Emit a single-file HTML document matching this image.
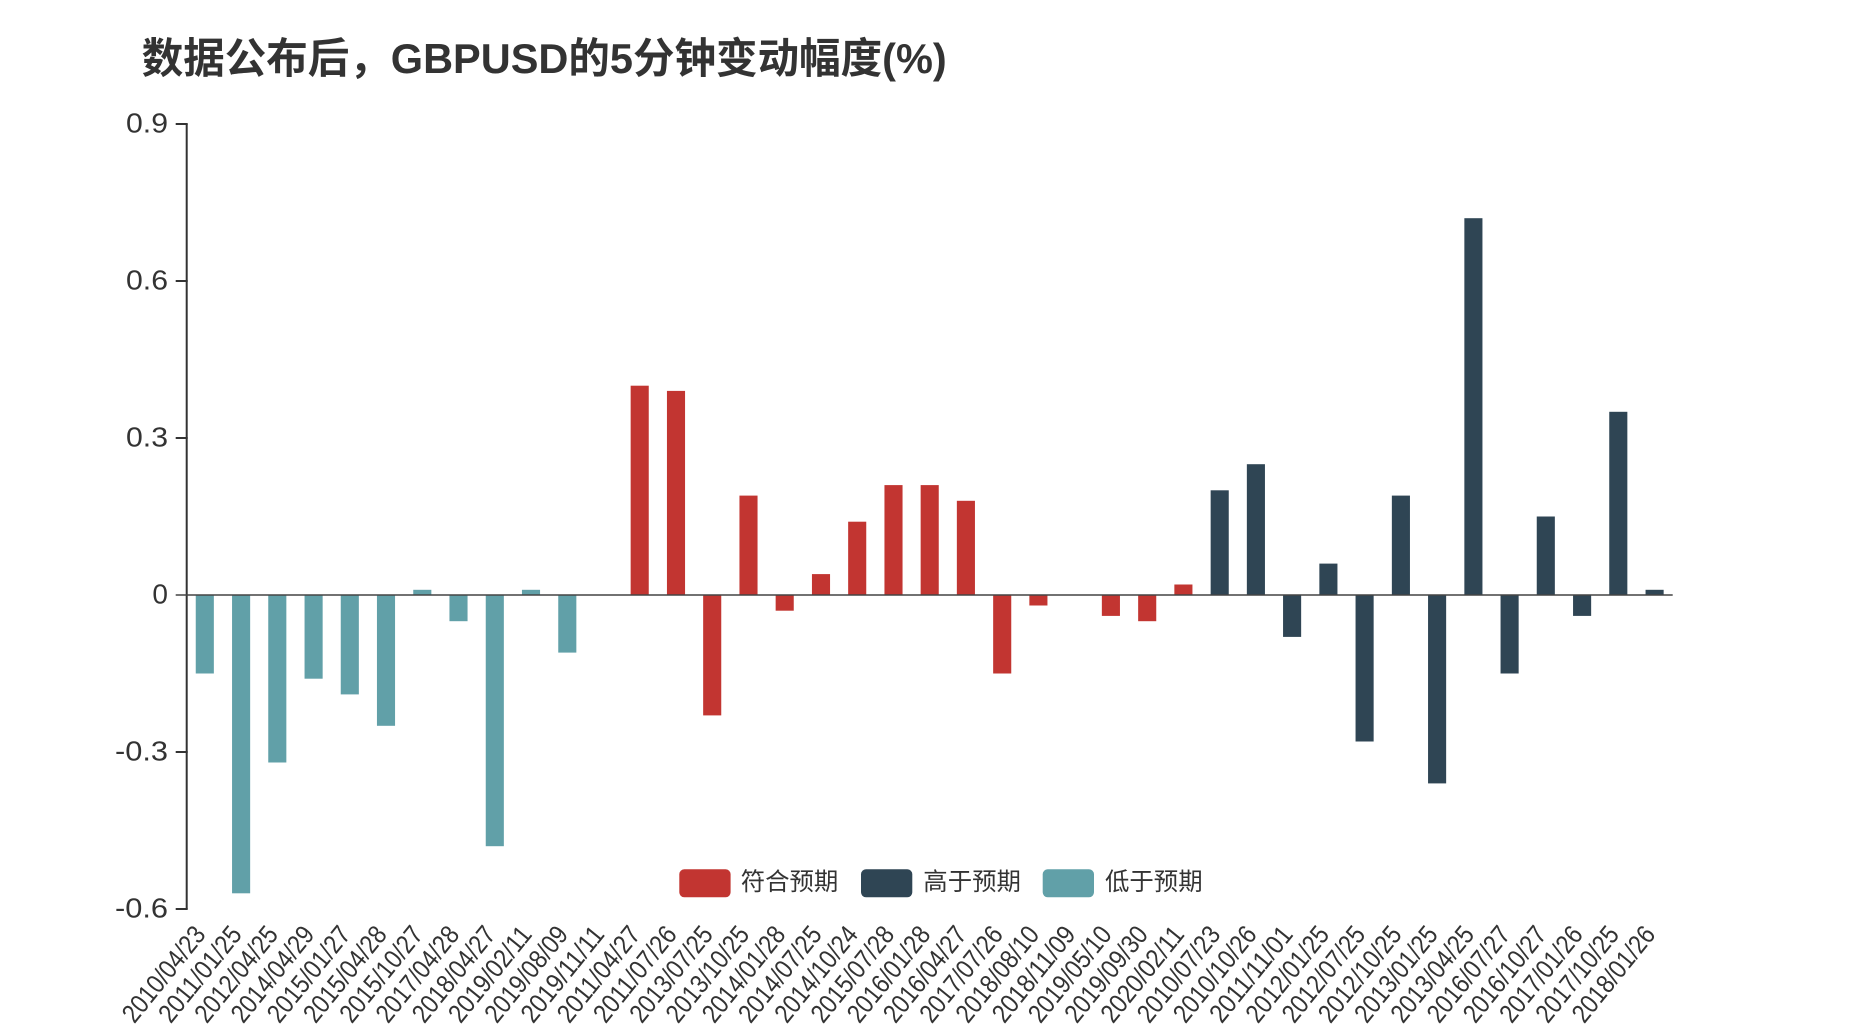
<!DOCTYPE html>
<html>
<head>
<meta charset="utf-8">
<style>
html,body{margin:0;padding:0;background:#fff;}
svg{display:block;}
text{font-family:"Liberation Sans","Noto Sans CJK SC",sans-serif;fill:#333;}
</style>
</head>
<body>
<svg width="1858" height="1032" viewBox="0 0 1858 1032" xmlns="http://www.w3.org/2000/svg">
<rect x="0" y="0" width="1858" height="1032" fill="#fff"/>
<!-- Title -->
<text x="141.7" y="73" font-size="42" font-weight="bold" textLength="805" lengthAdjust="spacingAndGlyphs">数据公布后，GBPUSD的5分钟变动幅度(%)</text>

<!-- Y axis labels -->
<g font-size="28" text-anchor="end">
<text x="168" y="132.5" textLength="42" lengthAdjust="spacingAndGlyphs">0.9</text>
<text x="168" y="289.5" textLength="42" lengthAdjust="spacingAndGlyphs">0.6</text>
<text x="168" y="446.5" textLength="42" lengthAdjust="spacingAndGlyphs">0.3</text>
<text x="168" y="603.5">0</text>
<text x="168" y="760.5" textLength="53" lengthAdjust="spacingAndGlyphs">-0.3</text>
<text x="168" y="917.5" textLength="53" lengthAdjust="spacingAndGlyphs">-0.6</text>
</g>

<!-- Bars: 低于预期 -->
<g fill="#61a0a8">
<rect x="195.75" y="595" width="18.1" height="78.5"/>
<rect x="232.05" y="595" width="18.1" height="298.3"/>
<rect x="268.25" y="595" width="18.1" height="167.5"/>
<rect x="304.55" y="595" width="18.1" height="83.7"/>
<rect x="340.75" y="595" width="18.1" height="99.4"/>
<rect x="376.95" y="595" width="18.1" height="130.8"/>
<rect x="413.25" y="589.8" width="18.1" height="5.2"/>
<rect x="449.45" y="595" width="18.1" height="26.2"/>
<rect x="485.75" y="595" width="18.1" height="251.2"/>
<rect x="521.95" y="589.8" width="18.1" height="5.2"/>
<rect x="558.25" y="595" width="18.1" height="57.6"/>
</g>
<!-- Bars: 符合预期 -->
<g fill="#c23531">
<rect x="630.65" y="385.7" width="18.1" height="209.3"/>
<rect x="666.95" y="390.9" width="18.1" height="204.1"/>
<rect x="703.15" y="595" width="18.1" height="120.4"/>
<rect x="739.45" y="495.6" width="18.1" height="99.4"/>
<rect x="775.65" y="595" width="18.1" height="15.7"/>
<rect x="811.95" y="574.1" width="18.1" height="20.9"/>
<rect x="848.15" y="521.7" width="18.1" height="73.3"/>
<rect x="884.45" y="485.1" width="18.1" height="109.9"/>
<rect x="920.65" y="485.1" width="18.1" height="109.9"/>
<rect x="956.85" y="500.8" width="18.1" height="94.2"/>
<rect x="993.15" y="595" width="18.1" height="78.5"/>
<rect x="1029.35" y="595" width="18.1" height="10.5"/>
<rect x="1101.85" y="595" width="18.1" height="20.9"/>
<rect x="1138.15" y="595" width="18.1" height="26.2"/>
<rect x="1174.35" y="584.5" width="18.1" height="10.5"/>
</g>
<!-- Bars: 高于预期 -->
<g fill="#2f4554">
<rect x="1210.65" y="490.3" width="18.1" height="104.7"/>
<rect x="1246.85" y="464.2" width="18.1" height="130.8"/>
<rect x="1283.05" y="595" width="18.1" height="41.9"/>
<rect x="1319.35" y="563.6" width="18.1" height="31.4"/>
<rect x="1355.55" y="595" width="18.1" height="146.5"/>
<rect x="1391.85" y="495.6" width="18.1" height="99.4"/>
<rect x="1428.05" y="595" width="18.1" height="188.4"/>
<rect x="1464.35" y="218.2" width="18.1" height="376.8"/>
<rect x="1500.55" y="595" width="18.1" height="78.5"/>
<rect x="1536.75" y="516.5" width="18.1" height="78.5"/>
<rect x="1573.05" y="595" width="18.1" height="20.9"/>
<rect x="1609.25" y="411.8" width="18.1" height="183.2"/>
<rect x="1645.55" y="589.8" width="18.1" height="5.2"/>
</g>

<!-- Axes -->
<g stroke="#333" fill="none">
<line x1="186.7" y1="124" x2="186.7" y2="909" stroke-width="2"/>
<line x1="175.7" y1="124" x2="187.7" y2="124" stroke-width="2"/>
<line x1="175.7" y1="281" x2="187.7" y2="281" stroke-width="2"/>
<line x1="175.7" y1="438" x2="187.7" y2="438" stroke-width="2"/>
<line x1="175.7" y1="752" x2="187.7" y2="752" stroke-width="2"/>
<line x1="175.7" y1="909" x2="187.7" y2="909" stroke-width="2"/>
<line x1="175.7" y1="595" x2="1672.7" y2="595" stroke-width="1.6" stroke="#444"/>
</g>

<!-- X labels -->
<g font-size="26.5" text-anchor="end">
<text transform="translate(206.8,935) rotate(-51)" textLength="115" lengthAdjust="spacingAndGlyphs">2010/04/23</text>
<text transform="translate(243.1,935) rotate(-51)" textLength="115" lengthAdjust="spacingAndGlyphs">2011/01/25</text>
<text transform="translate(279.3,935) rotate(-51)" textLength="115" lengthAdjust="spacingAndGlyphs">2012/04/25</text>
<text transform="translate(315.6,935) rotate(-51)" textLength="115" lengthAdjust="spacingAndGlyphs">2014/04/29</text>
<text transform="translate(351.8,935) rotate(-51)" textLength="115" lengthAdjust="spacingAndGlyphs">2015/01/27</text>
<text transform="translate(388.0,935) rotate(-51)" textLength="115" lengthAdjust="spacingAndGlyphs">2015/04/28</text>
<text transform="translate(424.3,935) rotate(-51)" textLength="115" lengthAdjust="spacingAndGlyphs">2015/10/27</text>
<text transform="translate(460.5,935) rotate(-51)" textLength="115" lengthAdjust="spacingAndGlyphs">2017/04/28</text>
<text transform="translate(496.8,935) rotate(-51)" textLength="115" lengthAdjust="spacingAndGlyphs">2018/04/27</text>
<text transform="translate(533.0,935) rotate(-51)" textLength="115" lengthAdjust="spacingAndGlyphs">2019/02/11</text>
<text transform="translate(569.3,935) rotate(-51)" textLength="115" lengthAdjust="spacingAndGlyphs">2019/08/09</text>
<text transform="translate(605.5,935) rotate(-51)" textLength="115" lengthAdjust="spacingAndGlyphs">2019/11/11</text>
<text transform="translate(641.7,935) rotate(-51)" textLength="115" lengthAdjust="spacingAndGlyphs">2011/04/27</text>
<text transform="translate(678.0,935) rotate(-51)" textLength="115" lengthAdjust="spacingAndGlyphs">2011/07/26</text>
<text transform="translate(714.2,935) rotate(-51)" textLength="115" lengthAdjust="spacingAndGlyphs">2013/07/25</text>
<text transform="translate(750.5,935) rotate(-51)" textLength="115" lengthAdjust="spacingAndGlyphs">2013/10/25</text>
<text transform="translate(786.7,935) rotate(-51)" textLength="115" lengthAdjust="spacingAndGlyphs">2014/01/28</text>
<text transform="translate(823.0,935) rotate(-51)" textLength="115" lengthAdjust="spacingAndGlyphs">2014/07/25</text>
<text transform="translate(859.2,935) rotate(-51)" textLength="115" lengthAdjust="spacingAndGlyphs">2014/10/24</text>
<text transform="translate(895.5,935) rotate(-51)" textLength="115" lengthAdjust="spacingAndGlyphs">2015/07/28</text>
<text transform="translate(931.7,935) rotate(-51)" textLength="115" lengthAdjust="spacingAndGlyphs">2016/01/28</text>
<text transform="translate(967.9,935) rotate(-51)" textLength="115" lengthAdjust="spacingAndGlyphs">2016/04/27</text>
<text transform="translate(1004.2,935) rotate(-51)" textLength="115" lengthAdjust="spacingAndGlyphs">2017/07/26</text>
<text transform="translate(1040.4,935) rotate(-51)" textLength="115" lengthAdjust="spacingAndGlyphs">2018/08/10</text>
<text transform="translate(1076.7,935) rotate(-51)" textLength="115" lengthAdjust="spacingAndGlyphs">2018/11/09</text>
<text transform="translate(1112.9,935) rotate(-51)" textLength="115" lengthAdjust="spacingAndGlyphs">2019/05/10</text>
<text transform="translate(1149.2,935) rotate(-51)" textLength="115" lengthAdjust="spacingAndGlyphs">2019/09/30</text>
<text transform="translate(1185.4,935) rotate(-51)" textLength="115" lengthAdjust="spacingAndGlyphs">2020/02/11</text>
<text transform="translate(1221.7,935) rotate(-51)" textLength="115" lengthAdjust="spacingAndGlyphs">2010/07/23</text>
<text transform="translate(1257.9,935) rotate(-51)" textLength="115" lengthAdjust="spacingAndGlyphs">2010/10/26</text>
<text transform="translate(1294.1,935) rotate(-51)" textLength="115" lengthAdjust="spacingAndGlyphs">2011/11/01</text>
<text transform="translate(1330.4,935) rotate(-51)" textLength="115" lengthAdjust="spacingAndGlyphs">2012/01/25</text>
<text transform="translate(1366.6,935) rotate(-51)" textLength="115" lengthAdjust="spacingAndGlyphs">2012/07/25</text>
<text transform="translate(1402.9,935) rotate(-51)" textLength="115" lengthAdjust="spacingAndGlyphs">2012/10/25</text>
<text transform="translate(1439.1,935) rotate(-51)" textLength="115" lengthAdjust="spacingAndGlyphs">2013/01/25</text>
<text transform="translate(1475.4,935) rotate(-51)" textLength="115" lengthAdjust="spacingAndGlyphs">2013/04/25</text>
<text transform="translate(1511.6,935) rotate(-51)" textLength="115" lengthAdjust="spacingAndGlyphs">2016/07/27</text>
<text transform="translate(1547.8,935) rotate(-51)" textLength="115" lengthAdjust="spacingAndGlyphs">2016/10/27</text>
<text transform="translate(1584.1,935) rotate(-51)" textLength="115" lengthAdjust="spacingAndGlyphs">2017/01/26</text>
<text transform="translate(1620.3,935) rotate(-51)" textLength="115" lengthAdjust="spacingAndGlyphs">2017/10/25</text>
<text transform="translate(1656.6,935) rotate(-51)" textLength="115" lengthAdjust="spacingAndGlyphs">2018/01/26</text>
</g>

<!-- Legend -->
<rect x="679.3" y="869.3" width="51.3" height="28" rx="5" fill="#c23531"/>
<text x="740.7" y="890" font-size="24.4" textLength="97.6" lengthAdjust="spacingAndGlyphs">符合预期</text>
<rect x="861" y="869.3" width="51.3" height="28" rx="5" fill="#2f4554"/>
<text x="923.3" y="890" font-size="24.4" textLength="97.6" lengthAdjust="spacingAndGlyphs">高于预期</text>
<rect x="1042.7" y="869.3" width="51.3" height="28" rx="5" fill="#61a0a8"/>
<text x="1105" y="890" font-size="24.4" textLength="97.6" lengthAdjust="spacingAndGlyphs">低于预期</text>
</svg>
</body>
</html>
